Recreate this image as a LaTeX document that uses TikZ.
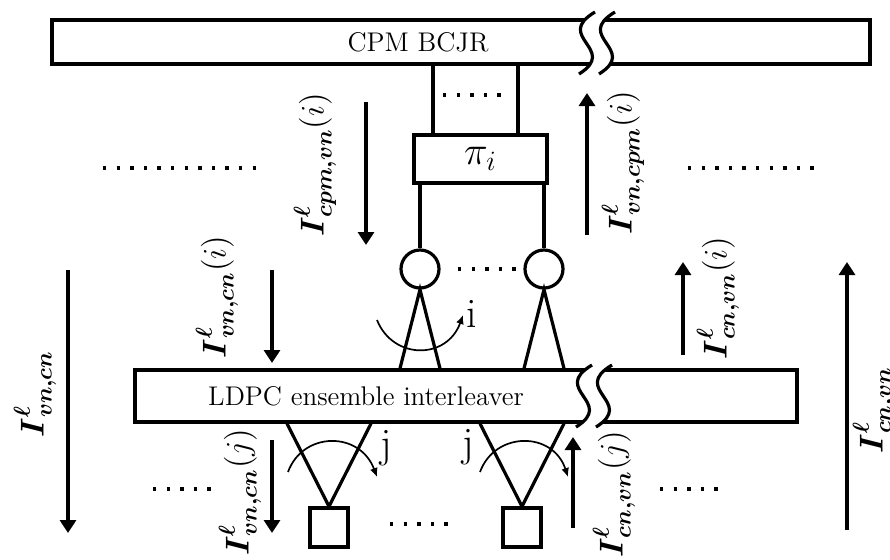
\RequirePackage{fix-cm}
\documentclass[tikz,border=0pt]{standalone}
\usepackage{amsmath}
\usetikzlibrary{arrows.meta}
\newcommand{\Ilab}[2]{\boldsymbol{I}^{\boldsymbol{\ell}}_{\boldsymbol{#1}}#2}
\tikzset{
  x=0.5pt, y=-0.5pt,
  wire/.style={line width=1.6pt, line join=miter},
  box/.style={draw, line width=1.6pt, rectangle, inner sep=0pt},
  vn/.style={draw, circle, line width=1.6pt, minimum size=19pt, inner sep=0pt},
  cn/.style={draw, rectangle, line width=1.6pt, minimum width=19pt, minimum height=19.5pt, inner sep=0pt},
  txt/.style={inner sep=0pt, font=\fontsize{13.5}{16}\selectfont},
  lab/.style={rotate=90, inner sep=0pt, font=\fontsize{16.5}{20}\selectfont},
  ij/.style={inner sep=0pt, font=\fontsize{21}{24}\selectfont},
  flow/.style={line width=1.6pt, -{Triangle[length=6.5pt,width=8pt]}},
  swing/.style={line width=0.85pt, -{Latex[length=4.5pt,width=4pt]}},
  dotrow/.style={line width=1.7pt, dash pattern=on 1.7pt off 5.1pt},
  brkline/.style={line width=1.6pt, line cap=butt},
  brk/.pic={
    \fill[white] (0,0) .. controls (-42,25) and (24,37) .. (-16,62)
      -- (4,62) .. controls (44,37) and (-22,25) .. (20,0) -- cycle;
    \draw[brkline] (0,0) .. controls (-42,25) and (24,37) .. (-16,62);
    \draw[brkline] (20,0) .. controls (-22,25) and (44,37) .. (4,62);
  }
}
\begin{document}
\begin{tikzpicture}
\useasboundingbox (0,0) rectangle (890,559);

% main boxes
\node[box, minimum width=409pt, minimum height=22pt] (cpm) at (461,42) {};
\node[txt] (cpmtxt) at (418,42) {CPM BCJR};
\pic at (595,12) {brk};

\node[box, minimum width=331pt, minimum height=26pt] (ldpc) at (466,396) {};
\node[txt] (ldpctxt) at (366,396) {LDPC ensemble interleaver};
\pic at (592,365) {brk};

\node[box, minimum width=66.5pt, minimum height=24pt, font=\fontsize{20}{24}\selectfont] (pi) at (480.5,159) {$\pi_i$};

% variable and check nodes
\node[vn] (vn1) at (420,269) {};
\node[vn] (vn2) at (544,269) {};
\node[cn] (cn1) at (329,527.5) {};
\node[cn] (cn2) at (522,527.5) {};

% wires
\draw[wire] ([xshift=-23.75pt]pi.north) -- ([xshift=-23.75pt]pi.north |- cpm.south);
\draw[wire] ([xshift=18.75pt]pi.north) -- ([xshift=18.75pt]pi.north |- cpm.south);
\draw[wire] (vn1.north) -- (vn1.north |- pi.south);
\draw[wire] (vn2.north) -- (vn2.north |- pi.south);
\draw[wire] ([xshift=-10pt]vn1.south |- ldpc.north) -- (vn1.south) -- ([xshift=10pt]vn1.south |- ldpc.north);
\draw[wire] ([xshift=-10pt]vn2.south |- ldpc.north) -- (vn2.south) -- ([xshift=10pt]vn2.south |- ldpc.north);
\draw[wire] ([xshift=-21pt]cn1.north |- ldpc.south) -- (cn1.north) -- ([xshift=21pt]cn1.north |- ldpc.south);
\draw[wire] ([xshift=-21pt]cn2.north |- ldpc.south) -- (cn2.north) -- ([xshift=21pt]cn2.north |- ldpc.south);

% dot rows
\draw[dotrow] (443,95) -- ++(57.8,0);
\draw[dotrow] (458,269) -- ++(57.8,0);
\draw[dotrow] (390,524) -- ++(57.8,0);
\draw[dotrow] (153,489) -- ++(57.8,0);
\draw[dotrow] (660,489) -- ++(57.8,0);
\draw[dotrow] (103,168) -- ++(153,0);
\draw[dotrow] (688,168) -- ++(125.8,0);

% flow arrows
\coordinate (a1s) at (366,102); \coordinate (a1e) at (366,245);
\coordinate (a2s) at (587,235); \coordinate (a2e) at (587,93);
\coordinate (a3s) at (272,270); \coordinate (a3e) at (272,363);
\coordinate (a4s) at (683,355); \coordinate (a4e) at (683,262);
\coordinate (a5s) at (68,270);  \coordinate (a5e) at (68,533);
\coordinate (a6s) at (847,530); \coordinate (a6e) at (847,262);
\coordinate (a7s) at (272,440); \coordinate (a7e) at (272,533);
\coordinate (a8s) at (573,528); \coordinate (a8e) at (573,437);
\foreach \k in {1,...,8} { \draw[flow] (a\k s) -- (a\k e); }

% labels
\node[lab] (l1) at (315,165) {$\Ilab{cpm,vn}{(i)}$};
\node[lab] (l2) at (623,163) {$\Ilab{vn,cpm}{(i)}$};
\node[lab] (l3) at (217,297) {$\Ilab{vn,cn}{(i)}$};
\node[lab] (l4) at (718,298) {$\Ilab{cn,vn}{(i)}$};
\node[lab] (l5) at (35,394)  {$\Ilab{vn,cn}{}$};
\node[lab] (l6) at (874,410) {$\Ilab{cn,vn}{}$};
\node[lab] (l7) at (240,492) {$\Ilab{vn,cn}{(j)}$};
\node[lab] (l8) at (614,494) {$\Ilab{cn,vn}{(j)}$};

% edge-index arcs
\coordinate (s1) at (377,320); \coordinate (e1) at (463,315);
\draw[swing] (s1) .. controls (393,360) and (447,360) .. (e1);
\coordinate (s2) at (288,472); \coordinate (e2) at (377,477);
\draw[swing] (s2) .. controls (303,431) and (360,431) .. (e2);
\coordinate (s3) at (480,472); \coordinate (e3) at (568,477);
\draw[swing] (s3) .. controls (495,431) and (553,431) .. (e3);
\node[ij] (ti) at (472,314) {i};
\node[ij] (tj1) at (386,448) {j};
\node[ij] (tj2) at (468,447) {j};
\end{tikzpicture}
\end{document}
